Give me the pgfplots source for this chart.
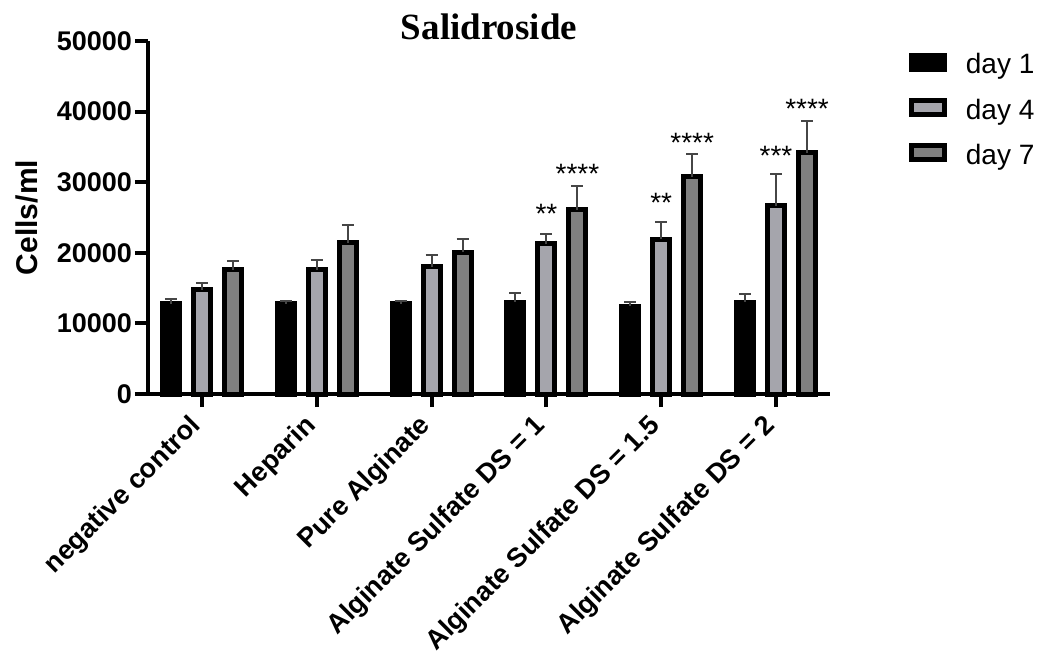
\documentclass[border=0pt]{standalone}
\usepackage{fontspec}
\setmainfont{Liberation Sans}
\newfontfamily\serifb{Liberation Serif}
\usepackage{pgfplots}
\pgfplotsset{compat=1.18}
\usepackage{pgfplotstable}
\definecolor{dayfour}{RGB}{165,165,172}
\definecolor{dayseven}{RGB}{128,128,128}
\definecolor{errc}{RGB}{70,70,70}

\pgfplotstableread{
x d1 e1 d4 e4 d7 e7
0 12800 700 14800 900 17600 1300
1 12800 400 17600 1400 21400 2600
2 12800 400 18000 1700 20100 1800
3 13000 1300 21300 1300 26100 3300
4 12400 700 21900 2400 30800 3200
5 13000 1200 26700 4400 34200 4500
}\data

\begin{document}
\begin{tikzpicture}
\path[use as bounding box] (-74pt,-130pt) rectangle (449.5pt,197pt);
\begin{axis}[
 at={(0pt,0pt)}, anchor=south west,
 scale only axis, width=341pt, height=176.5pt,
 clip=false,
 xmin=-0.47, xmax=5.47, ymin=0, ymax=50000,
 axis x line*=bottom, axis y line*=left,
 axis line style={line width=2pt},
 every tick/.style={black, line width=2pt},
 tick align=outside, major tick length=6.5pt,
 xtick={0,...,5},
 xticklabels={negative control,Heparin,Pure Alginate,Alginate Sulfate DS = 1,Alginate Sulfate DS = 1.5,Alginate Sulfate DS = 2},
 ytick={0,10000,...,50000},
 scaled y ticks=false,
 /pgf/number format/assume math mode=true,
 /pgf/number format/set thousands separator={},
 yticklabel style={font=\fontsize{13.5}{16}\selectfont\bfseries, xshift=2pt},
 xticklabel style={font=\fontsize{13.5}{16}\selectfont\bfseries, yshift=-5pt, rotate=45, anchor=east},
 ylabel={Cells/ml},
 ylabel style={font=\fontsize{15}{18}\selectfont\bfseries, at={(axis description cs:-0.177,0.5)}, anchor=center},
 title={Salidroside},
 title style={font=\serifb\fontsize{18.5}{22}\selectfont\bfseries, at={(axis description cs:0.5,1)}, anchor=base, yshift=-5pt},
 legend style={draw=none, fill=none, at={(axis description cs:1.107,0.988)}, anchor=north west,
   font=\fontsize{14}{16}\selectfont, row sep=7pt, legend cell align=left},
 legend image code/.code={\draw[#1] (0pt,-2pt) rectangle (16.5pt,5pt); \path[draw=none,fill=none] (0pt,0pt) -- (25pt,0pt);},
 error bars/error bar style={line width=1pt, errc},
 error bars/error mark options={rotate=90, line width=1pt, errc, mark size=3pt},
]
\addplot[ybar, bar width=8.5pt, bar shift=0pt, draw=black, fill=black, line width=2.5pt,
  error bars/.cd, y dir=plus, y explicit] table[x expr=\thisrow{x}-0.27,y=d1,y error=e1]{\data};
\addlegendentry{day 1}
\addplot[ybar, bar width=8.5pt, bar shift=0pt, draw=black, fill=dayfour, line width=2.5pt,
  error bars/.cd, y dir=plus, y explicit] table[x=x,y=d4,y error=e4]{\data};
\addlegendentry{day 4}
\addplot[ybar, bar width=8.5pt, bar shift=0pt, draw=black, fill=dayseven, line width=2.5pt,
  error bars/.cd, y dir=plus, y explicit] table[x expr=\thisrow{x}+0.27,y=d7,y error=e7]{\data};
\addlegendentry{day 7}
\node[font=\fontsize{14}{16}\selectfont, anchor=north, inner sep=0pt] at (axis cs:3,26900) {**};
\node[font=\fontsize{14}{16}\selectfont, anchor=north, inner sep=0pt] at (axis cs:3.27,32580) {****};
\node[font=\fontsize{14}{16}\selectfont, anchor=north, inner sep=0pt] at (axis cs:4,28430) {**};
\node[font=\fontsize{14}{16}\selectfont, anchor=north, inner sep=0pt] at (axis cs:4.27,37010) {****};
\node[font=\fontsize{14}{16}\selectfont, anchor=north, inner sep=0pt] at (axis cs:5,35130) {***};
\node[font=\fontsize{14}{16}\selectfont, anchor=north, inner sep=0pt] at (axis cs:5.27,41740) {****};
\end{axis}
\end{tikzpicture}
\end{document}
